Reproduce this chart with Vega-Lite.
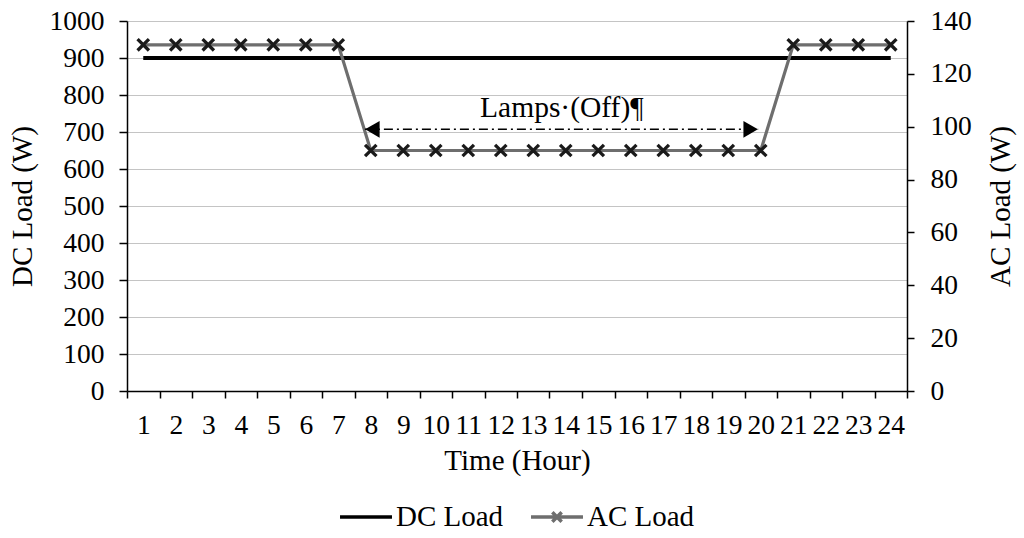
{
  "$schema": "https://vega.github.io/schema/vega-lite/v6.json",
  "width": 780,
  "height": 370,
  "autosize": "none",
  "padding": {"left": 127, "top": 21, "right": 117, "bottom": 147},
  "background": "white",
  "config": {
    "view": {"stroke": null},
    "axis": {
      "labelFont": "Liberation Serif, serif", "titleFont": "Liberation Serif, serif",
      "labelFontSize": 27.5, "titleFontSize": 29, "titleFontWeight": "normal",
      "labelColor": "black", "titleColor": "black",
      "domainColor": "black", "tickColor": "black", "domainWidth": 1.5, "tickWidth": 1.5
    },
    "legend": {"labelFont": "Liberation Serif, serif", "labelFontSize": 29, "labelColor": "black"}
  },
  "datasets": {
    "loads": [
      {"hour": 1, "dc": 900, "ac": 131}, {"hour": 2, "dc": 900, "ac": 131},
      {"hour": 3, "dc": 900, "ac": 131}, {"hour": 4, "dc": 900, "ac": 131},
      {"hour": 5, "dc": 900, "ac": 131}, {"hour": 6, "dc": 900, "ac": 131},
      {"hour": 7, "dc": 900, "ac": 131}, {"hour": 8, "dc": 900, "ac": 91},
      {"hour": 9, "dc": 900, "ac": 91}, {"hour": 10, "dc": 900, "ac": 91},
      {"hour": 11, "dc": 900, "ac": 91}, {"hour": 12, "dc": 900, "ac": 91},
      {"hour": 13, "dc": 900, "ac": 91}, {"hour": 14, "dc": 900, "ac": 91},
      {"hour": 15, "dc": 900, "ac": 91}, {"hour": 16, "dc": 900, "ac": 91},
      {"hour": 17, "dc": 900, "ac": 91}, {"hour": 18, "dc": 900, "ac": 91},
      {"hour": 19, "dc": 900, "ac": 91}, {"hour": 20, "dc": 900, "ac": 91},
      {"hour": 21, "dc": 900, "ac": 131}, {"hour": 22, "dc": 900, "ac": 131},
      {"hour": 23, "dc": 900, "ac": 131}, {"hour": 24, "dc": 900, "ac": 131}
    ],
    "arrow": [{"hour": 7.82, "hour2": 19.92, "y": 99}],
    "heads": [
      {"hour": 8.05, "y": 99, "dir": "left"},
      {"hour": 19.69, "y": 99, "dir": "right"}
    ],
    "note": [{"hour": 13.88, "y": 107, "label": "Lamps·(Off)¶"}]
  },
  "encoding": {
    "x": {
      "field": "hour", "type": "quantitative",
      "scale": {"domain": [0.5, 24.5], "nice": false, "zero": false},
      "axis": {
        "title": "Time (Hour)",
        "values": [0.5,1.5,2.5,3.5,4.5,5.5,6.5,7.5,8.5,9.5,10.5,11.5,12.5,13.5,14.5,15.5,16.5,17.5,18.5,19.5,20.5,21.5,22.5,23.5,24.5],
        "labelExpr": "datum.value < 24 ? format(datum.value + 0.5, 'd') : ''",
        "labelOffset": 16.25, "labelFlush": false, "labelOverlap": false, "labelBound": false,
        "grid": false, "tickSize": 7, "labelPadding": 13, "titlePadding": 8
      }
    }
  },
  "resolve": {"scale": {"y": "independent"}},
  "layer": [
    {
      "data": {"name": "loads"},
      "mark": {"type": "line", "strokeWidth": 3.8},
      "encoding": {
        "y": {
          "field": "dc", "type": "quantitative",
          "scale": {"domain": [0, 1000], "nice": false},
          "axis": {
            "title": "DC Load (W)", "orient": "left", "format": "d",
            "values": [0,100,200,300,400,500,600,700,800,900,1000],
            "grid": true, "gridColor": "#c4c4c4", "gridWidth": 1,
            "tickSize": 8, "labelPadding": 15, "titlePadding": 12
          }
        },
        "color": {
          "datum": "DC Load", "type": "nominal",
          "scale": {"domain": ["DC Load", "AC Load"], "range": ["#000000", "#6e6e6e"]},
          "legend": {
            "title": null, "orient": "none", "legendX": 211, "legendY": 468,
            "direction": "horizontal", "symbolSize": 2700, "symbolStrokeWidth": 3.5,
            "labelOffset": 2, "columnPadding": 20,
            "encode": {
              "symbols": {
                "update": {
                  "shape": {"signal": "datum.value == 'AC Load' ? 'M-1,0H1M-0.18,-0.18L0.18,0.18M-0.18,0.18L0.18,-0.18' : 'M-1,0H1'"}
                }
              }
            }
          }
        }
      }
    },
    {
      "layer": [
        {
          "data": {"name": "loads"},
          "mark": {"type": "line", "strokeWidth": 3.2},
          "encoding": {
            "y": {
              "field": "ac", "type": "quantitative",
              "scale": {"domain": [0, 140], "nice": false},
              "axis": {
                "title": "AC Load (W)", "orient": "right",
                "values": [0,20,40,60,80,100,120,140],
                "grid": false, "tickSize": 7, "labelPadding": 16,
                "titleAngle": 270, "titlePadding": 44
              }
            },
            "color": {"datum": "AC Load", "type": "nominal"}
          }
        },
        {
          "data": {"name": "loads"},
          "mark": {"type": "point", "shape": "M-1,-1L1,1M-1,1L1,-1", "filled": false, "stroke": "#1a1a1a", "strokeWidth": 3.3, "size": 130, "opacity": 1},
          "encoding": {
            "y": {"field": "ac", "type": "quantitative"}
          }
        },
        {
          "data": {"name": "arrow"},
          "mark": {"type": "rule", "color": "black", "strokeWidth": 1.5, "strokeDash": [9, 4, 2, 4]},
          "encoding": {
            "x2": {"field": "hour2"},
            "y": {"field": "y", "type": "quantitative"}
          }
        },
        {
          "data": {"name": "heads"},
          "mark": {"type": "point", "filled": true, "color": "black", "size": 280, "opacity": 1},
          "encoding": {
            "y": {"field": "y", "type": "quantitative"},
            "shape": {
              "field": "dir", "type": "nominal",
              "scale": {"domain": ["left", "right"], "range": ["triangle-left", "triangle-right"]},
              "legend": null
            }
          }
        },
        {
          "data": {"name": "note"},
          "mark": {"type": "text", "font": "Liberation Serif, serif", "fontSize": 29.5, "color": "black", "baseline": "middle", "align": "center"},
          "encoding": {
            "y": {"field": "y", "type": "quantitative"},
            "text": {"field": "label"}
          }
        }
      ]
    }
  ]
}
